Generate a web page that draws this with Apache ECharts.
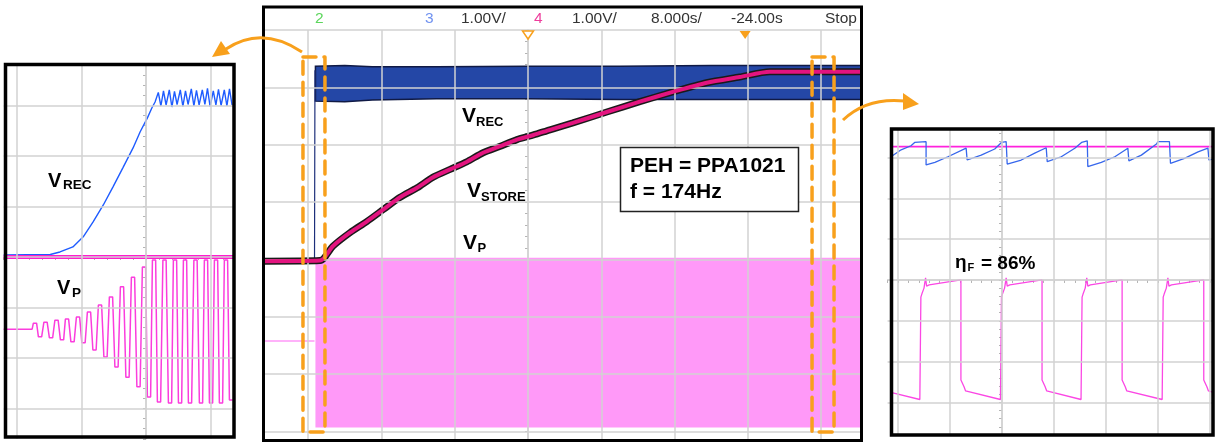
<!DOCTYPE html>
<html>
<head>
<meta charset="utf-8">
<script src="https://cdn.jsdelivr.net/npm/echarts@6/dist/echarts.min.js"></script>
<style>
html, body { margin: 0; padding: 0; background: #fff; }
#main { width: 1215px; height: 443px; }
</style>
</head>
<body>
<div id="main"></div>
<script>
// ---------- centre capture (8 s/div, 1 V/div) ----------
var mainGridT = [-24, -16, -8, 0, 8, 16, 24, 32];
var mainGridV = [-3, -2, -1, 0, 1, 2, 3, 4];
var storeT = [-28.8, -22.7, -21.3, -19.4, -17.6, -15.8, -14.0, -12.1, -10.4, -8.5, -6.7, -4.9, -3.1, -1.2, 0.6, 2.4, 4.9, 8.6, 12.2, 15.8, 19.5, 23.1, 26.4, 36.4];
var storeV = [-0.03, -0.02, 0.23, 0.47, 0.66, 0.87, 1.08, 1.25, 1.43, 1.57, 1.70, 1.86, 1.97, 2.09, 2.17, 2.26, 2.38, 2.57, 2.75, 2.92, 3.08, 3.18, 3.27, 3.27];
var recT = [-28.8, -23.3, -23.25];
var recV = [-0.02, -0.02, 3.3];
var recBandT = [-23.2, -20, -17, -10, 0, 10, 20, 30, 36.4];
var recBandTop = [3.37, 3.38, 3.36, 3.36, 3.37, 3.37, 3.38, 3.38, 3.38];
var recBandLow = [2.76, 2.75, 2.78, 2.80, 2.80, 2.79, 2.79, 2.79, 2.79];
var vpIdleT = [-28.8, -23.3];
var vpIdleV = [-1.42, -1.42];
var vpBandT = [-23.2, 36.4];
var vpBandTop = [0.03, 0.03];
var vpBandLow = [-2.93, -2.93];
var markerT = [0, 23.7];
var boxLeftT = [-24.56, -22.16];
var boxRightT = [31.0, 33.4];
var boxV = [3.53, -3.01];

// ---------- left zoom (start-up) ----------
var zGridT = [-2, -1, 0, 1];
var zGridV = [-3, -2, -1, 0, 1, 2, 3];
var zRecT = [-2.2, -1.48, -1.33, -1.13, -0.97, -0.82, -0.66, -0.51, -0.36, -0.2, -0.09, 0.02, 0.09, 0.14];
var zRecV = [0.04, 0.05, 0.1, 0.2, 0.4, 0.69, 1.03, 1.39, 1.76, 2.16, 2.48, 2.75, 2.95, 3.07];
var zRipPeakT = [0.19, 0.27, 0.36, 0.44, 0.53, 0.61, 0.70, 0.78, 0.87, 0.95, 1.04, 1.12, 1.21, 1.29];
var zRipPeakV = [3.26, 3.29, 3.31, 3.28, 3.31, 3.29, 3.33, 3.30, 3.31, 3.34, 3.29, 3.32, 3.31, 3.33];
var zRipLowT = [0.23, 0.31, 0.40, 0.48, 0.57, 0.65, 0.74, 0.82, 0.91, 0.99, 1.08, 1.16, 1.25, 1.33];
var zRipLowV = [2.99, 3.01, 2.97, 3.02, 2.98, 3.02, 2.99, 3.01, 3.02, 2.98, 3.01, 3.00, 2.99, 3.01];
var zStoreT = [-2.2, 1.35];
var zStoreV = [0, 0];
var zVpIdleT = [-2.2, -1.76];
var zVpIdleV = [-1.43, -1.43];
var zVpTopT = [-1.716, -1.553, -1.383, -1.221, -1.051, -0.881, -0.711, -0.541, -0.371, -0.201, -0.031, 0.124, 0.286, 0.448, 0.603, 0.765, 0.927, 1.082, 1.236];
var zVpTopV = [-1.31, -1.29, -1.25, -1.23, -1.19, -1.09, -0.95, -0.79, -0.59, -0.40, -0.20, -0.06, -0.06, -0.06, -0.06, -0.06, -0.06, -0.06, -0.06];
var zVpLowT = [-1.638, -1.468, -1.298, -1.136, -0.966, -0.796, -0.626, -0.456, -0.286, -0.116, 0.046, 0.201, 0.371, 0.526, 0.680, 0.850, 1.005, 1.159, 1.314];
var zVpLowV = [-1.58, -1.60, -1.64, -1.68, -1.70, -1.84, -1.98, -2.18, -2.38, -2.57, -2.77, -2.87, -2.89, -2.89, -2.89, -2.89, -2.89, -2.89, -2.83];

// ---------- right zoom (steady state) ----------
var fGridT = [-2, -1, 0, 1, 2, 3, 4];
var fGridV = [-3, -2, -1, 0, 1, 2, 3];
var fStoreT = [-2.1, 4.05];
var fStoreV = [3.27, 3.27];
var fRecT = [-2.1, -1.94, -1.75, -1.68, -1.46, -1.46, -1.29, -1.04, -0.69, -0.67, -0.40, -0.14, -0.01, 0.08, 0.10, 0.37, 0.63, 0.85, 0.87, 1.14, 1.40, 1.53, 1.64, 1.65, 1.91, 2.17, 2.42, 2.44, 2.68, 2.97, 3.00, 3.22, 3.24, 3.51, 3.77, 3.96, 3.98, 4.05];
var fRecV = [3.05, 3.19, 3.29, 3.37, 3.39, 2.82, 2.88, 3.02, 3.23, 2.94, 3.06, 3.21, 3.37, 3.39, 2.84, 2.94, 3.11, 3.24, 2.90, 3.02, 3.23, 3.37, 3.41, 2.78, 2.88, 3.02, 3.23, 2.92, 3.06, 3.33, 3.39, 3.39, 2.86, 2.98, 3.14, 3.23, 2.94, 2.96];
var fVpT = [-2.1, -1.58,
  -1.56, -1.56, -1.54, -1.50, -1.47, -1.45, -1.40, -0.79, -0.79, -0.73, -0.70, -0.03,
  -0.01, -0.01, 0.01, 0.05, 0.08, 0.10, 0.15, 0.77, 0.77, 0.83, 0.86, 1.52,
  1.54, 1.54, 1.56, 1.60, 1.63, 1.65, 1.70, 2.31, 2.31, 2.37, 2.40, 3.08,
  3.10, 3.10, 3.12, 3.16, 3.19, 3.21, 3.26, 3.88, 3.88, 3.94, 3.97, 4.05];
var fVpV = [-2.77, -2.93,
  -2.94, -0.42, -0.34, -0.20, 0.05, -0.15, -0.12, 0.00, -2.45, -2.62, -2.72, -2.93,
  -2.94, -0.42, -0.34, -0.20, 0.05, -0.15, -0.12, 0.00, -2.45, -2.62, -2.72, -2.93,
  -2.94, -0.42, -0.34, -0.20, 0.05, -0.15, -0.12, 0.00, -2.45, -2.62, -2.72, -2.93,
  -2.94, -0.42, -0.34, -0.20, 0.05, -0.15, -0.12, 0.00, -2.45, -2.62, -2.72, -2.75];

var orange = '#f8a01c';
var font = '"Liberation Sans", Arial, sans-serif';

function pairs(xs, ys) {
  return xs.map(function (x, i) { return [x, ys[i]]; });
}
function byT(a, b) { return a[0] - b[0]; }
function boxPath(ts, vs) {
  return [[ts[0], vs[0]], [ts[1], vs[0]], [ts[1], vs[1]], [ts[0], vs[1]], [ts[0], vs[0]]];
}

// rippled rectifier output in the left zoom
var zRecPts = pairs(zRecT, zRecV).concat(pairs(zRipPeakT, zRipPeakV), pairs(zRipLowT, zRipLowV)).sort(byT);
// square-ish piezo voltage: short flat at every top / bottom
var zVpPts = pairs(zVpIdleT, zVpIdleV);
zVpTopT.forEach(function (t, i) { zVpPts.push([t - 0.025, zVpTopV[i]], [t + 0.025, zVpTopV[i]]); });
zVpLowT.forEach(function (t, i) { zVpPts.push([t - 0.025, zVpLowV[i]], [t + 0.025, zVpLowV[i]]); });
zVpPts.sort(byT);

function gridLines(ts, vs) {
  return {
    silent: true, symbol: 'none', animation: false,
    label: { show: false },
    lineStyle: { color: '#d2d2d2', width: 1.5, type: 'solid' },
    data: ts.map(function (t) { return { xAxis: t }; }).concat(vs.map(function (v) { return { yAxis: v }; }))
  };
}
function axis(grid, min, max, step) {
  return {
    gridIndex: grid, type: 'value', min: min, max: max, interval: step,
    axisLine: { show: true, onZero: true, lineStyle: { color: '#d2d2d2', width: 1.5 } },
    axisTick: { show: true, length: 3, lineStyle: { color: '#b4b4b4', width: 1 } },
    axisLabel: { show: false },
    splitLine: { show: false }
  };
}
function trace(grid, data, color, width, z, extra) {
  var s = {
    type: 'line', xAxisIndex: grid, yAxisIndex: grid, data: data,
    symbol: 'none', z: z, silent: true,
    lineStyle: { color: color, width: width }
  };
  if (extra) Object.keys(extra).forEach(function (k) { s[k] = extra[k]; });
  return s;
}
// filled envelope of a dense trace, between a low and a high edge
function envelope(ts, lo, hi, fill, stroke, z) {
  return {
    type: 'custom', xAxisIndex: 0, yAxisIndex: 0, z: z, silent: true,
    data: pairs(ts, hi),
    encode: { x: 0, y: 1 },
    renderItem: function (params, api) {
      if (params.dataIndex !== 0) return;
      var pts = ts.map(function (t, i) { return api.coord([t, hi[i]]); });
      for (var i = ts.length - 1; i >= 0; i--) pts.push(api.coord([ts[i], lo[i]]));
      return {
        type: 'polygon', shape: { points: pts },
        style: { fill: fill, stroke: stroke, lineWidth: stroke ? 1.5 : 0 }
      };
    }
  };
}
function txt(x, y, s, size, color, weight) {
  return {
    type: 'text', z: 101, x: x, y: y, silent: true,
    style: { text: s, fill: color || '#000', fontSize: size, fontWeight: weight || 'bold', fontFamily: font, align: 'left', verticalAlign: 'middle' }
  };
}

var myChart = echarts.init(document.getElementById('main'), null, { renderer: 'canvas' });

var dashBox = { lineStyle: { color: orange, width: 3.5, type: [13, 8], cap: 'round', join: 'round' } };

var option = {
  animation: false,
  backgroundColor: '#fff',
  grid: [
    { left: 264.12, top: 30, width: 597.4, height: 414 },
    { left: 3.66, top: 65.1, width: 229.7, height: 373.7 },
    { left: 887.6, top: 129, width: 325, height: 306 }
  ],
  xAxis: [axis(0, -28.8, 36.4, 1.6), axis(1, -2.2, 1.35, 0.2), axis(2, -2.2, 4.05, 0.2)],
  yAxis: [axis(0, -3.2, 4.0, 0.2), axis(1, -3.6, 3.8, 0.2), axis(2, -3.8, 3.7, 0.2)],
  series: [
    // centre
    {
      type: 'line', xAxisIndex: 0, yAxisIndex: 0, data: [], z: 1, silent: true,
      markLine: gridLines(mainGridT, mainGridV),
      markPoint: {
        silent: true, symbol: 'triangle', symbolRotate: 180, symbolSize: [11, 8], symbolOffset: [0, 5],
        label: { show: false },
        data: [
          { coord: [markerT[0], 4], itemStyle: { color: '#fff', borderColor: orange, borderWidth: 1.5 } },
          { coord: [markerT[1], 4], itemStyle: { color: orange } }
        ]
      }
    },
    envelope(vpBandT, vpBandLow, vpBandTop, '#ff99f8', null, 2),
    trace(0, pairs(vpIdleT, vpIdleV), '#ff99f8', 1.5, 2),
    envelope(recBandT, recBandLow, recBandTop, '#2447a6', '#101a45', 3),
    trace(0, pairs(recT, recV), '#1d2f7a', 1.2, 3),
    trace(0, pairs(storeT, storeV), '#1a1a1a', 7, 4, { smooth: 0.25 }),
    trace(0, pairs(storeT, storeV), '#e3147f', 4, 5, { smooth: 0.25 }),
    trace(0, boxPath(boxLeftT, boxV), orange, 3.5, 8, dashBox),
    trace(0, boxPath(boxRightT, boxV), orange, 3.5, 8, dashBox),
    // left zoom
    { type: 'line', xAxisIndex: 1, yAxisIndex: 1, data: [], z: 1, silent: true, markLine: gridLines(zGridT, zGridV) },
    trace(1, zRecPts, '#1f5cff', 1.4, 3),
    trace(1, zVpPts, '#fb3ddd', 1.5, 3),
    trace(1, pairs(zStoreT, zStoreV), '#ff1ccf', 4, 4),
    // right zoom
    { type: 'line', xAxisIndex: 2, yAxisIndex: 2, data: [], z: 1, silent: true, markLine: gridLines(fGridT, fGridV) },
    trace(2, pairs(fStoreT, fStoreV), '#ff22dd', 1.8, 3),
    trace(2, pairs(fRecT, fRecV), '#3767ec', 1.3, 4),
    trace(2, pairs(fVpT, fVpV), '#fb47e4', 1.3, 4)
  ],
  graphic: [
    { type: 'rect', z: 99, silent: true, shape: { x: 262, y: 441.5, width: 602, height: 4 }, style: { fill: '#fff' } },
    { type: 'rect', z: 100, silent: true, shape: { x: 5.5, y: 64.5, width: 228.5, height: 372.5 }, style: { fill: 'none', stroke: '#000', lineWidth: 3.5 } },
    { type: 'rect', z: 100, silent: true, shape: { x: 263.5, y: 7, width: 598, height: 433.5 }, style: { fill: 'none', stroke: '#000', lineWidth: 3 } },
    { type: 'rect', z: 100, silent: true, shape: { x: 891.5, y: 129, width: 321.5, height: 306 }, style: { fill: 'none', stroke: '#000', lineWidth: 3.5 } },
    { type: 'rect', z: 100, silent: true, shape: { x: 620.5, y: 147.5, width: 178, height: 64 }, style: { fill: '#fff', stroke: '#222', lineWidth: 1.5 } },
    // arrows to the zoom panels
    { type: 'bezierCurve', z: 100, silent: true, shape: { x1: 302, y1: 52, x2: 226, y2: 49, cpx1: 262, cpy1: 25 }, style: { fill: 'none', stroke: orange, lineWidth: 3 } },
    { type: 'polygon', z: 100, silent: true, shape: { points: [[212, 57], [230, 54], [221, 41]] }, style: { fill: orange } },
    { type: 'bezierCurve', z: 100, silent: true, shape: { x1: 843, y1: 120, x2: 905, y2: 101, cpx1: 867, cpy1: 97 }, style: { fill: 'none', stroke: orange, lineWidth: 3 } },
    { type: 'polygon', z: 100, silent: true, shape: { points: [[919, 104], [903, 93], [903, 110]] }, style: { fill: orange } },
    // scope header
    txt(315, 18.5, '2', 15.5, '#5cd65c', 'normal'),
    txt(425, 18.5, '3', 15.5, '#7092f0', 'normal'),
    txt(461, 18.5, '1.00V/', 15.5, '#333', 'normal'),
    txt(534, 18.5, '4', 15.5, '#ee3d9c', 'normal'),
    txt(572, 18.5, '1.00V/', 15.5, '#333', 'normal'),
    txt(651, 18.5, '8.000s/', 15.5, '#333', 'normal'),
    txt(731, 18.5, '-24.00s', 15.5, '#333', 'normal'),
    txt(825, 18.5, 'Stop', 15.5, '#333', 'normal'),
    // trace names
    txt(462, 116.5, 'V', 21), txt(476, 122, 'REC', 13),
    txt(467, 191.5, 'V', 21), txt(481, 197, 'STORE', 13),
    txt(463, 243.5, 'V', 21), txt(477.5, 248.5, 'P', 13),
    txt(630, 166.5, 'PEH = PPA1021', 21),
    txt(630, 192, 'f = 174Hz', 21),
    txt(48, 181, 'V', 20), txt(63, 185.5, 'REC', 13.5),
    txt(57, 288.5, 'V', 20), txt(72, 293, 'P', 13.5),
    txt(955, 263, '\u03b7', 19), txt(967.5, 268, 'F', 11), txt(981, 264, '= 86%', 19)
  ]
};

myChart.setOption(option);
window.onresize = function () {
  myChart.resize();
};
</script>
</body>
</html>
